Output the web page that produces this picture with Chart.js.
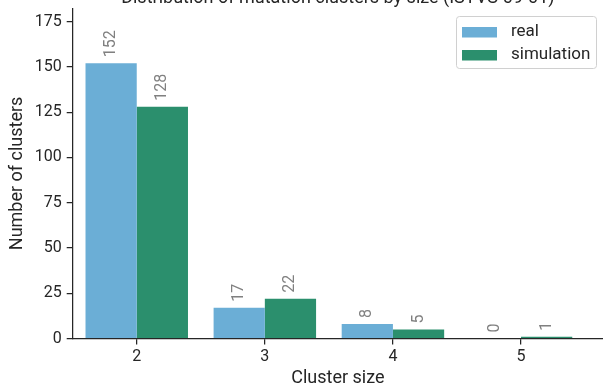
<!DOCTYPE html>
<html>
<head>
<title>Mutation clusters by size</title>
<style>
body { margin: 0; background: #fff; }
#chart { display: block; }
</style>
<script src="https://cdn.jsdelivr.net/npm/chart.js@4/dist/chart.umd.min.js"></script>
</head>
<body>
<canvas id="chart" width="603" height="389"></canvas>
<script>
// data
const clusterSizes = [2, 3, 4, 5];
const realCounts = [152, 17, 8, 0];
const simCounts = [128, 22, 5, 1];
const yTicks = [0, 25, 50, 75, 100, 125, 150, 175];
const seriesNames = ['real', 'simulation'];
const titleText = 'Distribution of mutation clusters by size (ISTVS-09-01)';

const colors = ['#6baed6', '#2b8f6d'];
const ink = '#262626';

Chart.defaults.font.family = 'Roboto';
Chart.defaults.color = ink;

function points(vals) {
	return clusterSizes.map((x, i) => ({ x: x, y: vals[i] }));
}

// rotated value labels above each bar
const barLabels = {
	id: 'barLabels',
	afterDatasetsDraw(chart) {
		const ctx = chart.ctx;
		ctx.save();
		ctx.font = '16px Roboto';
		ctx.fillStyle = '#808080';
		ctx.textAlign = 'left';
		ctx.textBaseline = 'middle';
		chart.data.datasets.forEach((ds, di) => {
			chart.getDatasetMeta(di).data.forEach((bar, i) => {
				ctx.save();
				ctx.translate(bar.x, bar.y - 6);
				ctx.rotate(-Math.PI / 2);
				ctx.fillText(String(ds.data[i].y), 0, 0);
				ctx.restore();
			});
		});
		ctx.restore();
	}
};

// clipped title + framed legend in the top right corner
const extras = {
	id: 'extras',
	afterDraw(chart) {
		const ctx = chart.ctx;
		const area = chart.chartArea;
		ctx.save();
		ctx.font = '18px Roboto';
		ctx.fillStyle = ink;
		ctx.textAlign = 'center';
		ctx.textBaseline = 'alphabetic';
		ctx.fillText(titleText, (area.left + area.right) / 2, 3);

		const bx = 456.5, by = 16.5, bw = 140, bh = 52;
		ctx.beginPath();
		ctx.roundRect(bx, by, bw, bh, 3);
		ctx.fillStyle = 'rgba(255,255,255,0.8)';
		ctx.fill();
		ctx.strokeStyle = '#d0d0d0';
		ctx.lineWidth = 1;
		ctx.stroke();

		ctx.font = '17px Roboto';
		ctx.textAlign = 'left';
		ctx.textBaseline = 'middle';
		chart.data.datasets.forEach((ds, i) => {
			const cy = 32 + i * 23;
			ctx.fillStyle = ds.backgroundColor;
			ctx.fillRect(462, cy - 5, 35, 10.5);
			ctx.fillStyle = ink;
			ctx.fillText(ds.label, 511, cy);
		});
		ctx.restore();
	}
};

new Chart(document.getElementById('chart'), {
	type: 'bar',
	data: {
		datasets: [
			{ label: seriesNames[0], data: points(realCounts), backgroundColor: colors[0] },
			{ label: seriesNames[1], data: points(simCounts), backgroundColor: colors[1] }
		]
	},
	options: {
		responsive: false,
		animation: false,
		categoryPercentage: 0.8,
		barPercentage: 1,
		layout: { padding: { top: 8.3, right: 0, left: 0, bottom: 0 } },
		plugins: {
			legend: { display: false },
			tooltip: { enabled: false }
		},
		scales: {
			x: {
				type: 'linear',
				offset: false,
				min: 1.5,
				max: 5.64,
				afterFit: s => { s.height = 50.5; s.paddingLeft = 0; s.paddingRight = 0; },
				afterBuildTicks: s => { s.ticks = clusterSizes.map(v => ({ value: v })); },
				grid: { offset: false, drawOnChartArea: false, drawTicks: true, tickLength: 6, color: ink, lineWidth: 1.25 },
				border: { color: ink, width: 1.25 },
				ticks: { font: { size: 16 }, color: ink, padding: 3 },
				title: { display: true, text: 'Cluster size', font: { size: 18 }, color: ink, padding: 0 }
			},
			y: {
				min: 0,
				max: 182.4,
				afterFit: s => { s.width = 72.7; s.paddingTop = 0; s.paddingBottom = 0; },
				afterBuildTicks: s => { s.ticks = yTicks.map(v => ({ value: v })); },
				grid: { drawOnChartArea: false, drawTicks: true, tickLength: 6, color: ink, lineWidth: 1.25 },
				border: { color: ink, width: 1.25 },
				ticks: { font: { size: 16 }, color: ink, padding: 5 },
				title: { display: true, text: 'Number of clusters', font: { size: 18 }, color: ink, padding: { top: 7, bottom: 0 } }
			}
		}
	},
	plugins: [barLabels, extras]
});
</script>
</body>
</html>
